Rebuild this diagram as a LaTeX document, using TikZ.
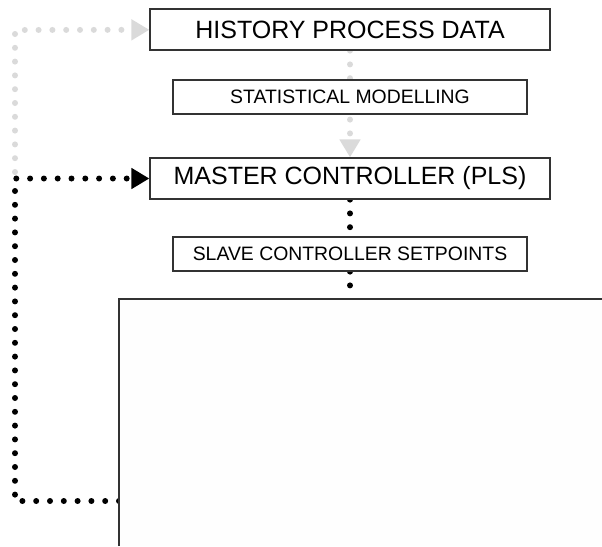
\documentclass[tikz,border=0pt]{standalone}
\usepackage{fontspec}
\setmainfont{Liberation Sans}
\usetikzlibrary{arrows.meta,backgrounds}
\definecolor{FlowInk}{HTML}{000000}
\definecolor{FlowEdge}{HTML}{333333}
\definecolor{FlowGrey}{HTML}{DADADA}
\definecolor{FlowPaper}{HTML}{FEFEFE}
\tikzset{
  every node/.style={text=FlowInk},
  bigbox/.style={draw=FlowEdge, line width=1.2pt, fill=white, minimum width=400pt,
                 minimum height=41pt, inner sep=0pt, font=\fontsize{25}{28}\selectfont},
  smallbox/.style={draw=FlowEdge, line width=1.2pt, fill=white, minimum width=354pt,
                   minimum height=34pt, inner sep=0pt, font=\fontsize{19.4}{22}\selectfont},
  frameline/.style={draw=FlowEdge, line width=1.4pt},
  dotline/.style={line width=6pt, line cap=round, dash pattern=on 0pt off 13.8pt},
  greyflow/.style={dotline, draw=FlowGrey, -{Triangle[length=18pt,width=20pt,fill=FlowGrey]}},
  blackflow/.style={dotline, draw=FlowInk, -{Triangle[length=18pt,width=20pt]}},
  blacklink/.style={dotline, draw=FlowInk},
}

\begin{document}
\begin{tikzpicture}[x=1pt,y=-1pt]
  \useasboundingbox (0,0) rectangle (602,546);

  % Boxes, top to bottom
  \node[bigbox]   (history) at (350,29.5)  {HISTORY PROCESS DATA};
  \node[smallbox] (stat)    at (350,97)    {STATISTICAL MODELLING};
  \node[bigbox]   (master)  at (350,178.5) {MASTER CONTROLLER (PLS)};
  \node[smallbox] (slave)   at (350,254)   {SLAVE CONTROLLER SETPOINTS};

  % Open process frame, running off the page
  \fill[FlowPaper] (119,299) rectangle (602,546);
  \draw[frameline] (119,546) -- (119,299) -- (602,299);
  \coordinate (frametop)  at (350,299);
  \coordinate (frameleft) at (119,501);
  \coordinate (greystart) at (15,172);

  % Connectors behind the boxes
  \begin{scope}[on background layer]
    \draw[greyflow] (history) -- (master);
    \draw[greyflow] (greystart) -- (15,30) -- (history);
    \draw[blacklink] (master) -- (slave);
    \draw[blacklink] (slave) -- (frametop);
    \draw[blackflow] (frameleft) -- (15,501) -- (15,178.5) -- (master);
  \end{scope}
\end{tikzpicture}
\end{document}
